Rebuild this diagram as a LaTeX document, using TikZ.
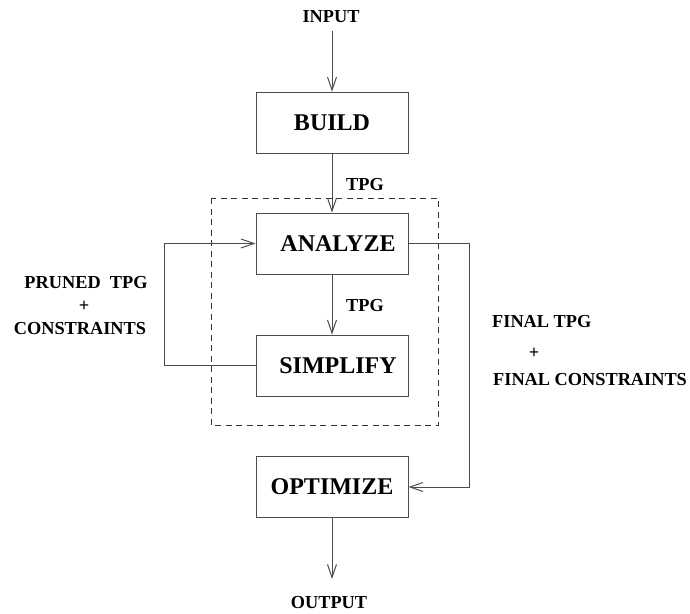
\documentclass[tikz,border=0pt]{standalone}
\usepackage{fontspec}
\setmainfont{Liberation Serif}
\usetikzlibrary{arrows.meta,calc}

\tikzset{
  line/.style={draw=black!70, line width=1pt},
  arr/.style={line, -{Straight Barb[length=13pt,width=9pt,line width=1pt]}},
  stage/.style={line, minimum width=152pt, minimum height=61pt, inner sep=0pt,
    font=\fontsize{24}{28}\selectfont\bfseries},
  lbl/.style={inner sep=0pt, align=center, font=\fontsize{18.3}{22}\selectfont\bfseries},
  frame/.style={draw=black!80, line width=0.9pt, dash pattern=on 6pt off 4.5pt}
}

\begin{document}
\begin{tikzpicture}[x=1pt, y=-1pt]
  \useasboundingbox (0,0) rectangle (690,613);

  % processing stages
  \node[stage] (build)    at (332,122.5) {BUILD};
  \node[stage] (analyze)  at (332,243.5) {\hspace*{12pt}ANALYZE};
  \node[stage] (simplify) at (332,365.5) {\hspace*{12pt}SIMPLIFY};
  \node[stage] (optimize) at (332,487)   {OPTIMIZE};

  % analysis / simplification loop enclosure
  \draw[frame] (211,198) rectangle (438,425);

  % input and output
  \node[lbl] (input)  at (331,16.5) {INPUT};
  \node[lbl] (output) at (329,603)  {OUTPUT};

  % edge labels
  \node[lbl] (tpgA) at (365,185) {TPG};
  \node[lbl] (tpgB) at (365,306) {TPG};
  \node[lbl] (pruned) at (80,306) {\hspace*{12pt}PRUNED\ \ TPG\\[1pt]\hspace*{8pt}+\\[1pt]CONSTRAINTS};
  \node[lbl, anchor=west] (finTPG) at (492,322) {FINAL TPG};
  \node[lbl] (finPlus) at (534,353) {+};
  \node[lbl, anchor=west] (finCons) at (493,380) {FINAL CONSTRAINTS};

  % routing columns
  \coordinate (lx) at (164,0);
  \coordinate (rx) at (469,0);

  % connectors
  \draw[arr] (input.south -| build.north) ++(0,8) -- (build.north);
  \draw[arr] (build) -- (analyze);
  \draw[arr] (analyze) -- (simplify);
  \draw[arr] (optimize.south) -- ($(optimize.south)+(0,61)$);
  \draw[arr] (simplify.west) -- (simplify.west -| lx) |- (analyze.west);
  \draw[arr] (analyze.east) -- (analyze.east -| rx) |- (optimize.east);
\end{tikzpicture}
\end{document}
